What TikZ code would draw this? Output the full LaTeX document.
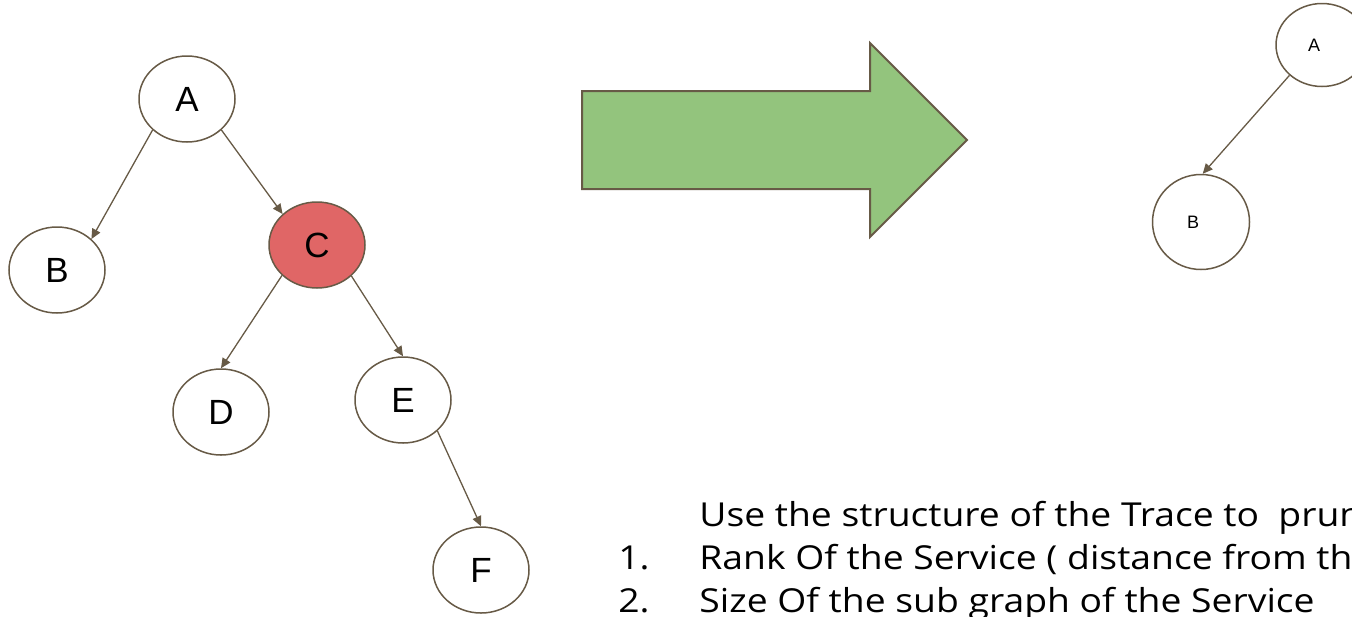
\documentclass[tikz,border=0pt]{standalone}
\usepackage{fontspec}
\newfontfamily\labelfont{Liberation Sans}
\newfontfamily\notefont[FakeStretch=1.13]{Open Sans}
\usetikzlibrary{arrows.meta,shapes.geometric}
\definecolor{edgebrown}{RGB}{103,90,70}
\definecolor{hotred}{RGB}{224,102,102}
\definecolor{arrowgreen}{RGB}{147,196,125}

\begin{document}
\begin{tikzpicture}[x=0.5pt,y=-0.5pt,
  svc/.style={ellipse,draw=edgebrown,line width=0.75pt,fill=white,inner sep=0pt,
    minimum width=48pt,minimum height=43pt,font=\labelfont\fontsize{17.5}{20}\selectfont},
  smallsvc/.style={ellipse,draw=edgebrown,line width=0.75pt,fill=white,inner sep=0pt},
  smalltag/.style={font=\labelfont\fontsize{9}{11}\selectfont,xshift=-4pt},
  call/.style={draw=edgebrown,line width=0.65pt,-{Triangle[length=5pt,width=4.5pt]}},
  note/.style={anchor=base west,inner sep=0pt,font=\notefont\fontsize{16.5}{20}\selectfont}]
\useasboundingbox (0,0) rectangle (1352,616);
\clip (0,0) rectangle (1352,616);

% big arrow in the middle
\draw[draw=edgebrown,line width=1pt,fill=arrowgreen,line join=miter]
  (582,91)--(870,91)--(870,43)--(967,140)--(870,237)--(870,189)--(582,189)--cycle;

% full trace
\node[svc] (A) at (187,99) {A};
\node[svc] (B) at (57,270) {B};
\node[svc,fill=hotred] (C) at (317,245) {C};
\node[svc] (D) at (221,412) {D};
\node[svc] (E) at (403,400) {E};
\node[svc] (F) at (481,570) {F};
\draw[call] (A.222)--(B.42);
\draw[call] (A.318)--(C.138);
\draw[call] (C.221)--(D.north);
\draw[call] (C.318)--(E.north);
\draw[call] (E.318)--(F.north);

% pruned trace
\node[smallsvc,minimum width=46pt,minimum height=41.5pt,
  label={[smalltag]center:A}] (pA) at (1322,45) {};
\node[smallsvc,minimum width=48.5pt,minimum height=47.5pt,
  label={[smalltag]center:B}] (pB) at (1201,222) {};
\draw[call] (pA.223)--(pB.88);

% notes
\node[note] (intro) at (699,526) {Use the structure of the Trace to\ \ prune};
\node[note] (num1) at (618,569) {1.};
\node[note] (rank) at (699,569) {Rank Of the Service ( distance from the};
\node[note] (num2) at (618,612) {2.};
\node[note] (size) at (699,612) {Size Of the sub graph of the Service};
\end{tikzpicture}
\end{document}
